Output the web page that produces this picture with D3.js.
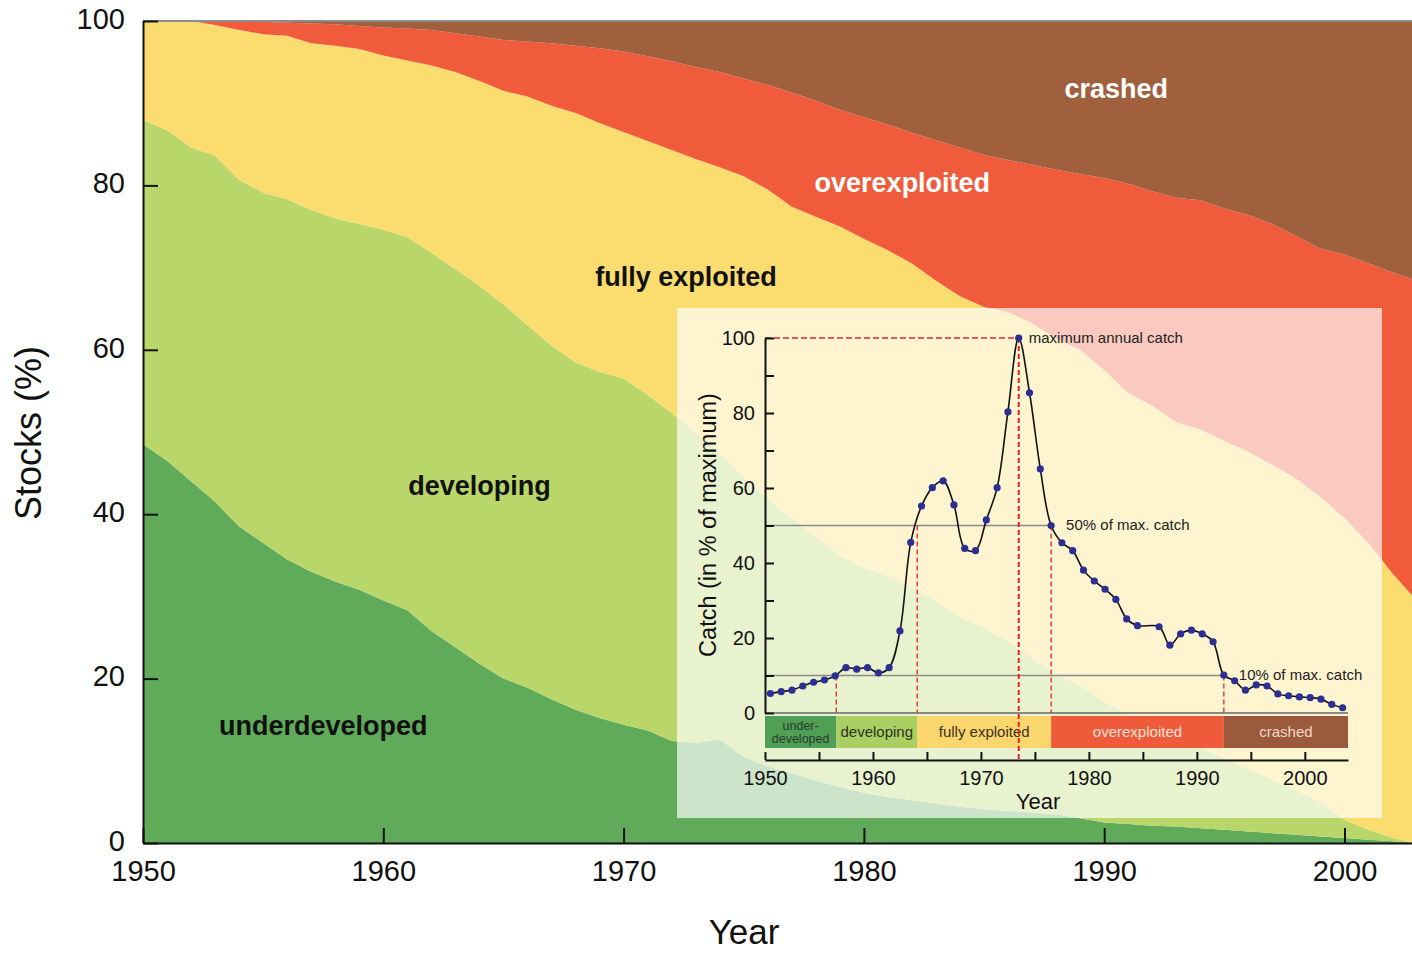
<!DOCTYPE html>
<html><head><meta charset="utf-8">
<script src="https://cdn.jsdelivr.net/npm/d3@7"></script>
<style>
body{margin:0;background:#fff}
svg{display:block;font-family:"Liberation Sans",Arial,Helvetica,sans-serif}
</style>
</head><body>
<svg id="chart" width="1412" height="953"></svg>
<script>
// ---------- Main chart data (stock status, % of stocks) ----------
const years = [1950,1951,1952,1953,1954,1955,1956,1957,1958,1959,1960,1961,1962,1963,1964,1965,1966,1967,1968,1969,
  1970,1971,1972,1973,1974,1975,1976,1977,1978,1979,1980,1981,1982,1983,1984,1985,1986,1987,1988,1989,
  1990,1991,1992,1993,1994,1995,1996,1997,1998,1999,2000,2001,2002,2003];
const underdeveloped = [48.5,46.5,44.0,41.5,38.5,36.5,34.5,33.0,31.8,30.8,29.5,28.3,25.8,23.8,21.8,20.0,18.9,17.5,16.2,15.2,
  14.4,13.7,12.4,12.2,12.6,10.5,9.3,8.5,7.6,6.8,6.1,5.6,5.2,4.8,4.4,4.1,3.9,3.7,3.5,3.0,
  2.5,2.3,2.1,2.0,1.8,1.6,1.4,1.2,1.0,0.8,0.6,0.4,0.2,0.0];
const developing = [39.5,40.2,40.6,42.1,42.2,42.6,43.8,44.0,44.2,44.5,45.1,45.4,46.0,46.0,46.0,45.5,44.1,43.0,42.3,42.1,
  42.1,40.8,39.9,37.8,34.9,34.0,32.5,31.0,29.7,28.2,27.4,26.9,25.8,24.7,23.1,22.1,20.6,18.8,17.0,16.2,
  14.7,13.2,11.9,10.8,9.9,8.7,7.6,6.5,5.4,4.2,2.2,1.2,0.4,0.0];
const fullyExploited = [12.0,13.3,15.4,15.9,18.2,19.3,19.9,20.3,21.0,21.3,21.2,21.5,22.8,24.0,24.9,26.0,27.8,29.2,30.3,30.3,
  30.0,30.9,32.0,33.2,34.7,36.6,37.7,37.9,38.9,40.0,40.0,39.6,39.5,38.9,39.0,39.0,40.1,40.7,40.9,40.8,
  40.3,39.2,39.2,38.4,38.6,38.6,38.6,38.3,37.9,37.1,36.7,34.9,32.2,29.5];
const overexploited = [0.0,0.0,0.0,0.5,1.1,1.5,1.6,2.4,2.6,2.8,3.4,3.9,4.3,4.7,5.4,6.2,6.7,7.6,8.2,9.1,
  9.8,10.3,10.8,11.2,11.6,11.9,12.7,13.9,14.1,14.2,14.8,15.3,15.9,17.1,18.1,18.5,18.5,19.3,20.5,21.4,
  23.4,25.5,26.1,27.3,27.9,28.3,28.8,29.3,29.5,30.2,32.1,34.0,36.6,38.9];
const crashed = [0.0,0.0,0.0,0.0,0.0,0.1,0.2,0.3,0.4,0.6,0.8,0.9,1.1,1.5,1.9,2.3,2.5,2.7,3.0,3.3,
  3.7,4.3,4.9,5.6,6.2,7.0,7.8,8.7,9.7,10.8,11.7,12.6,13.6,14.5,15.4,16.3,16.9,17.5,18.1,18.6,
  19.1,19.8,20.7,21.5,21.8,22.8,23.6,24.7,26.2,27.7,28.4,29.5,30.6,31.6];
const stockTicks = [0,20,40,60,80,100];
const yearTicks = [1950,1960,1970,1980,1990,2000];
const statusKeys = ["underdeveloped","developing","fully exploited","overexploited","crashed"];
const statusColors = ["#5fab5a","#b9d66a","#fbdc6f","#f05b3c","#a0603e"];
const statusLabels = [
  {text:"underdeveloped", year:1957.5, pct:13.1, fill:"#111"},
  {text:"developing", year:1964, pct:42.3, fill:"#111"},
  {text:"fully exploited", year:1972.6, pct:67.8, fill:"#111"},
  {text:"overexploited", year:1981.6, pct:79.2, fill:"#fff"},
  {text:"crashed", year:1990.5, pct:90.6, fill:"#fff"}
];

// ---------- Inset data (catch in % of maximum) ----------
const catchYears = [1950,1951,1952,1953,1954,1955,1956,1957,1958,1959,1960,1961,1962,1963,1964,1965,1966,1967,1968,1969,
  1970,1971,1972,1973,1974,1975,1976,1977,1978,1979,1980,1981,1982,1983,1984,1986,1987,1988,1989,
  1990,1991,1992,1993,1994,1995,1996,1997,1998,1999,2000,2001,2002,2003];
const catchValues = [5.2,5.7,6.1,7.2,8.2,8.8,9.9,12.1,11.7,12.1,10.7,12.1,21.9,45.5,55.2,60.1,61.9,55.5,43.9,43.3,
  51.5,60.1,80.3,100,85.4,65.1,50.0,45.4,43.3,38.1,35.2,33.0,30.3,25.1,23.3,23.0,18.1,21.1,22.1,
  21.1,19.0,10.1,8.6,6.1,7.5,7.2,5.1,4.6,4.3,4.1,3.7,2.3,1.4];
const catchTicks = [0,10,20,30,40,50,60,70,80,90,100];
const insetYearTicks = [1950,1955,1960,1965,1970,1975,1980,1985,1990,1995,2000];
const phaseNames = ["under-\ndeveloped","developing","fully exploited","overexploited","crashed"];
const phaseBounds = [1950,1956.6,1964.1,1976.5,1992.5,2004];
const phaseColors = ["#4f9f56","#a9cf63","#fbd66c","#ef5a3b","#9b5a3c"];
const phaseTextColors = ["#2b3a2b","#2b3520","#3a3224","#fde2d6","#f2d8cb"];
const markers = [
  {year:1956.6, level:10}, {year:1964.1, level:50}, {year:1973.5, level:100, full:true},
  {year:1976.5, level:50}, {year:1992.5, level:10}
];
const refLines = [{level:50, to:1976.5, text:"50% of max. catch"}, {level:10, to:1992.5, text:"10% of max. catch"}];
const peakText = "maximum annual catch";

// ---------- Drawing ----------
const svg = d3.select("#chart");
const x = d3.scaleLinear().domain([1950, 2003]).range([143, 143 + 53*24.03]);
const y = d3.scaleLinear().domain([0, 100]).range([843, 21]);

const rows = years.map((yr,i)=>({year:yr, "underdeveloped":underdeveloped[i], "developing":developing[i],
  "fully exploited":fullyExploited[i], "overexploited":overexploited[i], "crashed":crashed[i]}));
const stack = d3.stack().keys(statusKeys)(rows);
const area = d3.area().x(d=>x(d.data.year)).y0(d=>y(d[0])).y1(d=>y(d[1]));

svg.append("defs").append("clipPath").attr("id","plotclip")
  .append("rect").attr("x",143).attr("y",21).attr("width",1412-143).attr("height",843-21);

svg.append("g").attr("clip-path","url(#plotclip)")
  .selectAll("path").data(stack).join("path")
  .attr("d",area).attr("fill",(d,i)=>statusColors[i]);

// top border
svg.append("line").attr("x1",x(1950)).attr("x2",1412).attr("y1",y(100)).attr("y2",y(100))
  .attr("stroke","#8c8c8c").attr("stroke-width",2);

// axes
const yAxis = d3.axisLeft(y).tickValues(stockTicks).tickSizeInner(-15).tickSizeOuter(0).tickPadding(18);
const gy = svg.append("g").attr("transform",`translate(${x(1950)},0)`).call(yAxis);
const xAxis = d3.axisBottom(x).tickValues(yearTicks).tickFormat(d3.format("d")).tickSizeInner(-15).tickSizeOuter(0).tickPadding(17);
const gx = svg.append("g").attr("transform",`translate(0,${y(0)})`).call(xAxis);
[gy,gx].forEach(g=>{
  g.select(".domain").attr("stroke","#111").attr("stroke-width",2);
  g.selectAll(".tick line").attr("stroke","#111").attr("stroke-width",2);
  g.selectAll(".tick text").attr("font-size",29).attr("fill","#111").attr("font-family","'Liberation Sans',Arial,sans-serif");
});
gy.selectAll(".tick text").attr("dy","0.25em");

svg.append("text").attr("transform","translate(41,433) rotate(-90)").attr("text-anchor","middle")
  .attr("font-size",36).attr("fill","#111").text("Stocks (%)");
svg.append("text").attr("x",744).attr("y",944).attr("text-anchor","middle")
  .attr("font-size",35).attr("fill","#111").text("Year");

svg.append("g").selectAll("text").data(statusLabels).join("text")
  .attr("x",d=>x(d.year)).attr("y",d=>y(d.pct)).attr("text-anchor","middle")
  .attr("font-size",27).attr("font-weight","bold").attr("fill",d=>d.fill).text(d=>d.text);

// ---------- Inset ----------
const inset = svg.append("g");
inset.append("rect").attr("x",677).attr("y",308).attr("width",1382-677).attr("height",818-308)
  .attr("fill","#fff").attr("fill-opacity",0.68);

const xi = d3.scaleLinear().domain([1950, 2004]).range([765, 1348]);
const yi = d3.scaleLinear().domain([0, 100]).range([713, 338]);

// status bar
const barTop = 716, barBot = 748;
const phases = phaseNames.map((n,i)=>({name:n, x0:phaseBounds[i], x1:phaseBounds[i+1], color:phaseColors[i], tc:phaseTextColors[i]}));
inset.selectAll("rect.phase").data(phases).join("rect").attr("class","phase")
  .attr("x",d=>xi(d.x0)).attr("width",d=>xi(d.x1)-xi(d.x0))
  .attr("y",barTop).attr("height",barBot-barTop).attr("fill",d=>d.color);
const pt = inset.selectAll("text.phase").data(phases).join("text").attr("class","phase")
  .attr("x",d=>(xi(d.x0)+xi(d.x1))/2).attr("text-anchor","middle").attr("fill",d=>d.tc);
pt.each(function(d){
  const lines = d.name.split("\n");
  const t = d3.select(this);
  if(lines.length===1){
    t.attr("y",737).attr("font-size",15).text(lines[0]);
  } else {
    t.attr("font-size",12.5);
    lines.forEach((l,k)=>t.append("tspan").attr("x",(xi(d.x0)+xi(d.x1))/2).attr("y",730+k*12.5).text(l));
  }
});

// zero line
inset.append("line").attr("x1",xi(1950)).attr("x2",xi(2004)).attr("y1",yi(0)).attr("y2",yi(0))
  .attr("stroke","#666").attr("stroke-width",1.5);

// reference lines 50% / 10%
inset.selectAll("line.ref").data(refLines).join("line").attr("class","ref")
  .attr("x1",xi(1950)).attr("x2",d=>xi(d.to)).attr("y1",d=>yi(d.level)).attr("y2",d=>yi(d.level))
  .attr("stroke","#8a8a8a").attr("stroke-width",1.5);

// red dashed markers
inset.append("line").attr("x1",xi(1950)).attr("x2",xi(1973.5)).attr("y1",yi(100)).attr("y2",yi(100))
  .attr("stroke","#e0262b").attr("stroke-width",1.5).attr("stroke-dasharray","6,3");
inset.selectAll("line.mk").data(markers).join("line").attr("class","mk")
  .attr("x1",d=>xi(d.year)).attr("x2",d=>xi(d.year))
  .attr("y1",d=>yi(d.level)).attr("y2",d=>d.full?760:yi(0))
  .attr("stroke","#e0262b").attr("stroke-width",d=>d.full?2:1.3).attr("stroke-dasharray","5,3");

// axes
const yiAxis = d3.axisLeft(yi).tickValues(catchTicks).tickFormat(d=>d%20===0?d:"")
  .tickSizeInner(-9).tickSizeOuter(0).tickPadding(10);
const gyi = inset.append("g").attr("transform",`translate(${xi(1950)},0)`).call(yiAxis);
const xiAxis = d3.axisBottom(xi).tickValues(insetYearTicks).tickFormat(d=>d%10===0?d:"")
  .tickSizeInner(-8).tickSizeOuter(0).tickPadding(11);
const gxi = inset.append("g").attr("transform","translate(0,760)").call(xiAxis);
[gyi,gxi].forEach(g=>{
  g.select(".domain").attr("stroke","#111").attr("stroke-width",2);
  g.selectAll(".tick line").attr("stroke","#111").attr("stroke-width",2);
  g.selectAll(".tick text").attr("font-size",20).attr("fill","#111").attr("font-family","'Liberation Sans',Arial,sans-serif");
});

inset.append("text").attr("transform","translate(716,525) rotate(-90)").attr("text-anchor","middle")
  .attr("font-size",23.5).attr("fill","#111").text("Catch (in % of maximum)");
inset.append("text").attr("x",1038).attr("y",809).attr("text-anchor","middle")
  .attr("font-size",22).attr("fill","#111").text("Year");

// catch line & points
const catchData = catchYears.map((yr,i)=>({year:yr, value:catchValues[i]}));
inset.append("path").datum(catchData)
  .attr("d",d3.line().x(d=>xi(d.year+0.5)).y(d=>yi(d.value)).curve(d3.curveCatmullRom.alpha(0.5)))
  .attr("fill","none").attr("stroke","#111").attr("stroke-width",1.6);
inset.selectAll("circle").data(catchData).join("circle")
  .attr("cx",d=>xi(d.year+0.5)).attr("cy",d=>yi(d.value)).attr("r",3.6).attr("fill","#2b2f93");

// annotations
inset.append("text").attr("x",xi(1973.5)+10).attr("y",yi(100)+5).attr("font-size",15).attr("fill","#222").text(peakText);
inset.selectAll("text.reftxt").data(refLines).join("text").attr("class","reftxt")
  .attr("x",d=>xi(d.to)+15).attr("y",d=>yi(d.level)+4).attr("font-size",15).attr("fill","#222").text(d=>d.text);
</script>
</body></html>
